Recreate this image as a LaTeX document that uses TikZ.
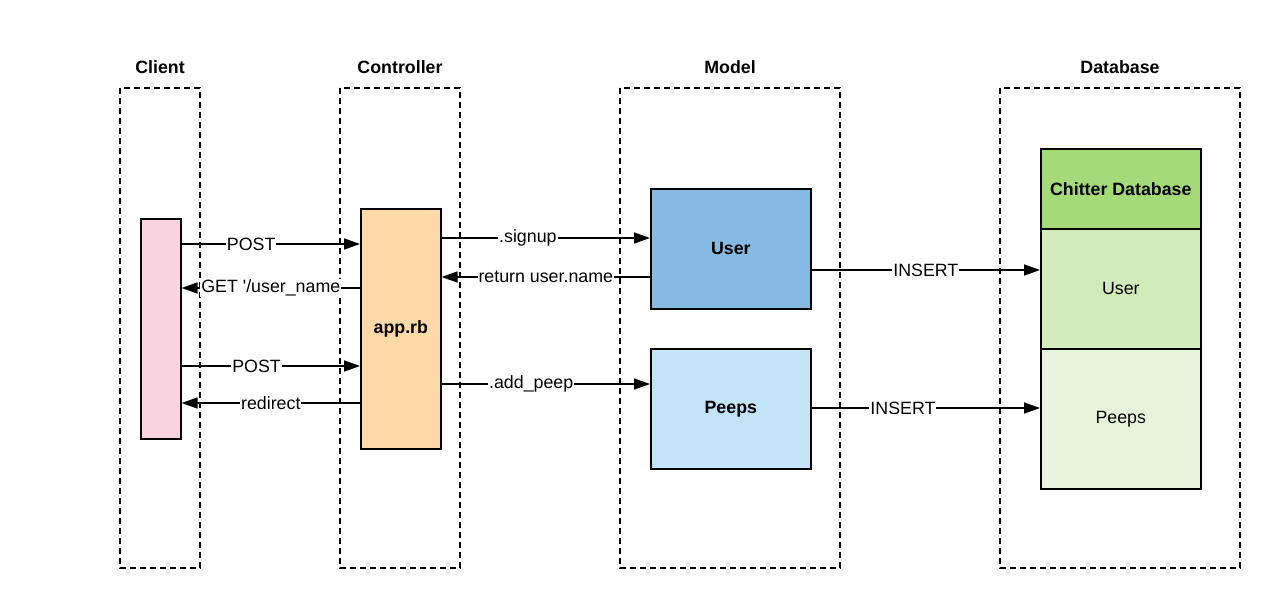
\documentclass[tikz,border=0pt]{standalone}
\usepackage{fontspec}
\setmainfont{Liberation Sans}
\usetikzlibrary{arrows.meta}
\definecolor{cpink}{HTML}{F9D3DF}
\definecolor{corange}{HTML}{FFDAA8}
\definecolor{cblue}{HTML}{86BAE3}
\definecolor{clblue}{HTML}{C3E4F6}
\definecolor{cgreen}{HTML}{A5DA79}
\definecolor{cmgreen}{HTML}{D1EBBA}
\definecolor{clgreen}{HTML}{E7F4DB}
\newcommand{\fs}{\fontsize{17.8}{20}\selectfont}
\tikzset{
  lane/.style={draw, dashed, dash pattern=on 6pt off 4pt, line width=1.6pt},
  box/.style={draw, line width=1.6pt, anchor=north west, inner sep=0pt, font=\fs},
  bbox/.style={box, font=\fs\bfseries},
  title/.style={font=\fs\bfseries},
  arr/.style={line width=1.6pt, -{Triangle[length=16pt,width=11pt]}},
  lbl/.style={fill=white, inner sep=1pt, font=\fs}
}
\begin{document}
\begin{tikzpicture}[x=1pt,y=-1pt]
\useasboundingbox (0,0) rectangle (1280,608);
% lanes
\draw[lane] (120,88) rectangle (200,568);
\draw[lane] (340,88) rectangle (460,568);
\draw[lane] (620,88) rectangle (840,568);
\draw[lane] (1000,88) rectangle (1240,568);
\node[title] (tclient) at (160,67) {Client};
\node[title] (tctrl) at (400,67) {Controller};
\node[title] (tmodel) at (730,67) {Model};
\node[title] (tdb) at (1120,67) {Database};
% boxes
\node[box, fill=cpink, minimum width=40pt, minimum height=220pt] (client) at (140,218) {};
\node[bbox, fill=corange, minimum width=80pt, minimum height=240pt] (app) at (360,208) {app.rb};
\node[bbox, fill=cblue, minimum width=160pt, minimum height=120pt] (user) at (650,188) {User};
\node[bbox, fill=clblue, minimum width=160pt, minimum height=120pt] (peeps) at (650,348) {Peeps};
\node[bbox, fill=cgreen, minimum width=160pt, minimum height=80pt] (dbh) at (1040,148) {Chitter Database};
\node[box, fill=cmgreen, minimum width=160pt, minimum height=120pt] (dbuser) at (1040,228) {User};
\node[box, fill=clgreen, minimum width=160pt, minimum height=140pt] (dbpeeps) at (1040,348) {Peeps};
% connectors
\draw[arr] (client.east |- 0,244) -- node[lbl, pos=0.39] {POST} (app.west |- 0,244);
\draw[arr] (app.west |- 0,288) -- node[lbl, pos=0.5] {GET \textquotesingle/user\_name} (client.east |- 0,288);
\draw[arr] (client.east |- 0,366) -- node[lbl, pos=0.42] {POST} (app.west |- 0,366);
\draw[arr] (app.west |- 0,403) -- node[lbl, pos=0.5] {redirect} (client.east |- 0,403);
\draw[arr] (app.east |- 0,238) -- node[lbl, pos=0.414] {.signup} (user.west |- 0,238);
\draw[arr] (user.west |- 0,277) -- node[lbl, pos=0.5] {return user.name} (app.east |- 0,277);
\draw[arr] (app.east |- 0,384) -- node[lbl, pos=0.43] {.add\_peep} (peeps.west |- 0,384);
\draw[arr] (user.east |- 0,270) -- node[lbl, pos=0.5] {INSERT} (dbuser.west |- 0,270);
\draw[arr] (peeps.east |- 0,408) -- node[lbl, pos=0.40] {INSERT} (dbpeeps.west |- 0,408);
\end{tikzpicture}
\end{document}
